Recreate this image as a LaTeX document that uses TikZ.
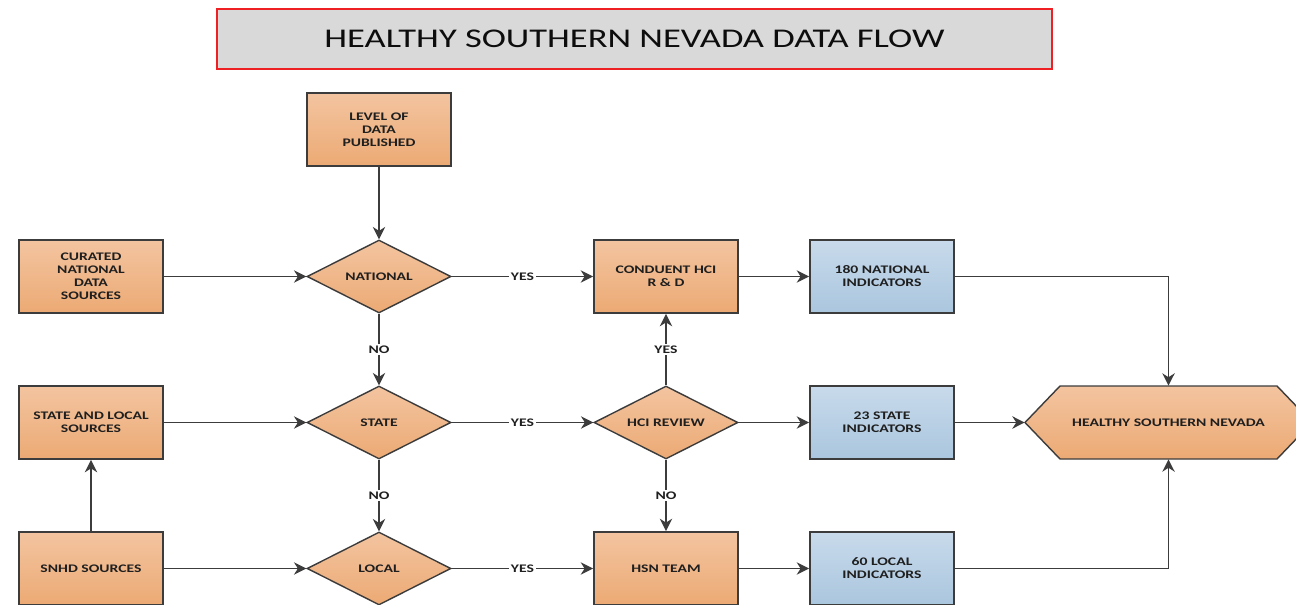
\documentclass[tikz,border=0pt]{standalone}
\usepackage{fontspec}
\setmainfont{Carlito}[FakeStretch=1.35]
\usetikzlibrary{shapes.geometric,arrows.meta}
\definecolor{orT}{HTML}{F3C4A0}
\definecolor{orB}{HTML}{ECAA74}
\definecolor{blT}{HTML}{C8DAEB}
\definecolor{blB}{HTML}{AAC6DE}
\definecolor{edgec}{HTML}{3C3C3C}
\definecolor{titlegray}{HTML}{D9D9D9}
\definecolor{titlered}{HTML}{EE2024}
\tikzset{
  boxfont/.style={font=\bfseries\fontsize{6.6}{7.4}\selectfont, text=black!88},
  obox/.style={rectangle, draw=edgec, line width=1.1pt, top color=orT, bottom color=orB,
    minimum width=2.88cm, minimum height=1.46cm, align=center, inner sep=1pt, boxfont},
  bbox/.style={obox, top color=blT, bottom color=blB},
  dbox/.style={diamond, draw=edgec, line width=0.8pt, top color=orT, bottom color=orB,
    minimum width=2.88cm, minimum height=1.46cm, aspect=2, inner sep=0pt, align=center, boxfont},
  conn/.style={draw=edgec, line width=1pt, -{Stealth[length=7pt,width=7pt,inset=2.2pt]}},
  lbl/.style={fill=white, inner sep=1pt, boxfont}
}
\begin{document}
\begin{tikzpicture}[x=0.02cm,y=-0.02cm]
\useasboundingbox (0,0) rectangle (1296,605);
\clip (0,0) rectangle (1296,605);
\fill[white] (0,0) rectangle (1296,605);
% title
\node[draw=titlered, line width=0.9pt, fill=titlegray, minimum width=16.7cm, minimum height=1.2cm,
  font=\fontsize{15.4}{18}\selectfont, text=black!95] (title) at (634.5,39) {HEALTHY SOUTHERN NEVADA DATA FLOW};
% column 1
\node[obox] (lvl) at (379,129.5) {LEVEL OF\\DATA\\PUBLISHED};
\node[obox] (cur) at (91,276.5) {CURATED\\NATIONAL\\DATA\\SOURCES};
\node[obox] (sls) at (91,422.5) {STATE AND LOCAL\\SOURCES};
\node[obox] (snhd) at (91,568.5) {SNHD SOURCES};
% decisions
\node[dbox] (nat) at (379,276.5) {NATIONAL};
\node[dbox] (sta) at (379,422.5) {STATE};
\node[dbox] (loc) at (379,568.5) {LOCAL};
\node[obox] (con) at (666,276.5) {CONDUENT HCI\\R \& D};
\node[dbox] (hci) at (666,422.5) {HCI REVIEW};
\node[obox] (team) at (666,568.5) {HSN TEAM};
% indicators
\node[bbox] (n180) at (882,276.5) {180 NATIONAL\\INDICATORS};
\node[bbox] (n23) at (882,422.5) {23 STATE\\INDICATORS};
\node[bbox] (n60) at (882,568.5) {60 LOCAL\\INDICATORS};
% final hexagon
\path[draw=edgec, line width=0.8pt, top color=orT, bottom color=orB]
  (1025,422.5) -- (1060,386) -- (1277,386) -- (1312,422.5) -- (1277,459) -- (1060,459) -- cycle;
\node[minimum width=5.74cm, minimum height=1.46cm, inner sep=0pt, boxfont] (hsn) at (1168.5,422.5) {HEALTHY SOUTHERN NEVADA};
% connectors
\draw[conn] (lvl) -- (nat);
\draw[conn] (cur) -- (nat);
\draw[conn] (sls) -- (sta);
\draw[conn] (snhd) -- (loc);
\draw[conn] (snhd) -- (sls);
\draw[conn] (nat) -- node[lbl]{YES} (con);
\draw[conn] (sta) -- node[lbl]{YES} (hci);
\draw[conn] (loc) -- node[lbl]{YES} (team);
\draw[conn] (nat) -- node[lbl]{NO} (sta);
\draw[conn] (sta) -- node[lbl]{NO} (loc);
\draw[conn] (hci) -- node[lbl]{YES} (con);
\draw[conn] (hci) -- node[lbl]{NO} (team);
\draw[conn] (con) -- (n180);
\draw[conn] (hci) -- (n23);
\draw[conn] (team) -- (n60);
\draw[conn] (n180.east) -| (hsn.north);
\draw[conn] (n23) -- (hsn.west);
\draw[conn] (n60.east) -| (hsn.south);
\end{tikzpicture}
\end{document}
